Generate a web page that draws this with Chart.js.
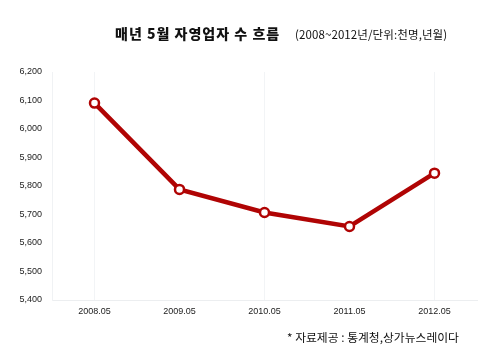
<!DOCTYPE html>
<html>
<head>
<meta charset="utf-8">
<script src="https://cdn.jsdelivr.net/npm/chart.js@4/dist/chart.umd.min.js"></script>
<style>
  body { margin: 0; background: #fff; }
  #wrap { position: relative; width: 485px; height: 359px; overflow: hidden; }
  #chart { position: absolute; left: 0; top: 0; }
  .txt { position: absolute; white-space: nowrap; color: #111; font-family: "Noto Sans CJK KR", sans-serif; }
  #title { left: 115px; top: 23px; font-size: 14px; font-weight: 900; letter-spacing: 1px; }
  #sub { left: 295px; top: 26px; font-size: 11.5px; letter-spacing: 0.1px; }
  #note { left: 287px; top: 328px; font-size: 11.8px; }
</style>
</head>
<body>
<div id="wrap">
  <canvas id="chart" width="485" height="359"></canvas>
  <div class="txt" id="title">매년 5월 자영업자 수 흐름</div>
  <div class="txt" id="sub">(2008~2012년/단위:천명,년월)</div>
  <div class="txt" id="note">* 자료제공 : 통계청,상가뉴스레이다</div>
</div>
<script>
// 데이터
const years = ["2008.05", "2009.05", "2010.05", "2011.05", "2012.05"];
const workers = [6091, 5788, 5707, 5658, 5845];
const yTicks = [5400, 5500, 5600, 5700, 5800, 5900, 6000, 6100, 6200];

const lineColor = "#b00404";

new Chart("chart", {
  type: "line",
  data: {
    labels: years,
    datasets: [
      {
        data: workers,
        borderColor: lineColor,
        borderWidth: 4.5,
        pointRadius: 4.5,
        pointBorderWidth: 2.5,
        pointBackgroundColor: "#fff",
        pointBorderColor: lineColor,
        tension: 0,
      },
    ],
  },
  options: {
    responsive: false,
    animation: false,
    layout: { padding: { top: 72, right: 8, bottom: 39, left: 0 } },
    plugins: { legend: { display: false }, tooltip: { enabled: false } },
    scales: {
      x: {
        offset: true,
        afterFit: (s) => { s.height = 20; },
        grid: {
          offset: false,
          drawTicks: false,
          color: (c) => (c.index % 2 === 0 ? "#f2f4f6" : "rgba(0,0,0,0)"),
        },
        border: { color: "#eceef0" },
        ticks: { color: "#222", font: { family: "Liberation Sans", size: 9 }, padding: 6 },
      },
      y: {
        min: 5400,
        max: 6200,
        afterFit: (s) => { s.width = 52; },
        afterBuildTicks: (s) => { s.ticks = yTicks.map((v) => ({ value: v })); },
        grid: { display: false, drawTicks: false },
        border: { color: "#f0f2f4" },
        ticks: {
          color: "#222",
          padding: 10,
          font: { family: "Liberation Sans", size: 9 },
          callback: (v) => v.toLocaleString("en-US"),
        },
      },
    },
  },
});
</script>
</body>
</html>
